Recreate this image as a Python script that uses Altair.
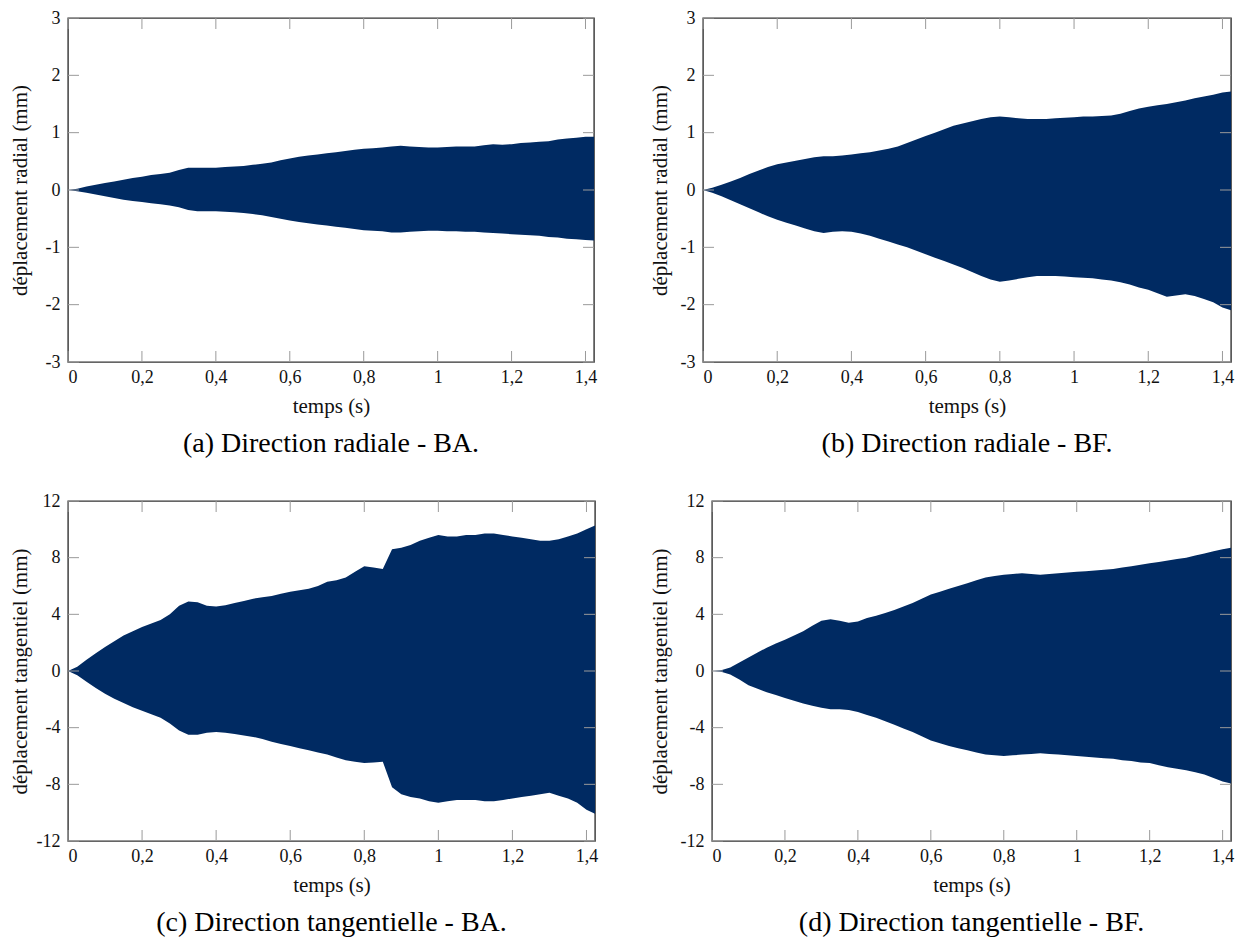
import altair as alt
import pandas as pd

# ---------------- data ----------------
TIME = [0.0, 0.025, 0.05, 0.075, 0.1, 0.125, 0.15, 0.175, 0.2, 0.225,
        0.25, 0.275, 0.3, 0.325, 0.35, 0.375, 0.4, 0.425, 0.45, 0.475,
        0.5, 0.525, 0.55, 0.575, 0.6, 0.625, 0.65, 0.675, 0.7, 0.725,
        0.75, 0.775, 0.8, 0.825, 0.85, 0.875, 0.9, 0.925, 0.95, 0.975,
        1.0, 1.025, 1.05, 1.075, 1.1, 1.125, 1.15, 1.175, 1.2, 1.225,
        1.25, 1.275, 1.3, 1.325, 1.35, 1.375, 1.4, 1.425]

# (a) radial - BA : upper / lower envelope (mm)
RAD_BA_UP = [0.0, 0.02, 0.06, 0.09, 0.12, 0.15, 0.18, 0.21, 0.23, 0.26,
             0.28, 0.30, 0.35, 0.39, 0.39, 0.39, 0.39, 0.40, 0.41, 0.42,
             0.44, 0.46, 0.48, 0.52, 0.55, 0.58, 0.60, 0.62, 0.64, 0.66,
             0.68, 0.70, 0.72, 0.73, 0.74, 0.76, 0.77, 0.76, 0.75, 0.74,
             0.74, 0.75, 0.76, 0.76, 0.76, 0.78, 0.80, 0.79, 0.80, 0.82,
             0.83, 0.84, 0.85, 0.88, 0.90, 0.91, 0.93, 0.93]
RAD_BA_LO = [0.0, -0.02, -0.05, -0.08, -0.11, -0.14, -0.17, -0.19, -0.21, -0.23,
             -0.25, -0.27, -0.30, -0.35, -0.37, -0.37, -0.37, -0.38, -0.39, -0.40,
             -0.42, -0.44, -0.47, -0.50, -0.53, -0.56, -0.58, -0.60, -0.62, -0.64,
             -0.66, -0.68, -0.70, -0.71, -0.72, -0.74, -0.74, -0.73, -0.72, -0.71,
             -0.71, -0.72, -0.72, -0.73, -0.73, -0.74, -0.75, -0.76, -0.77, -0.78,
             -0.79, -0.80, -0.82, -0.83, -0.85, -0.86, -0.87, -0.88]

# (b) radial - BF
RAD_BF_UP = [0.0, 0.04, 0.09, 0.15, 0.21, 0.28, 0.34, 0.40, 0.45, 0.48,
             0.51, 0.54, 0.57, 0.59, 0.59, 0.60, 0.62, 0.64, 0.66, 0.69,
             0.72, 0.76, 0.82, 0.88, 0.94, 1.00, 1.06, 1.12, 1.16, 1.20,
             1.24, 1.27, 1.28, 1.27, 1.25, 1.24, 1.24, 1.24, 1.25, 1.26,
             1.27, 1.28, 1.28, 1.29, 1.30, 1.33, 1.38, 1.42, 1.45, 1.48,
             1.50, 1.53, 1.56, 1.60, 1.63, 1.66, 1.70, 1.72]
RAD_BF_LO = [0.0, -0.05, -0.11, -0.18, -0.25, -0.32, -0.39, -0.46, -0.52, -0.57,
             -0.62, -0.67, -0.72, -0.75, -0.73, -0.72, -0.73, -0.76, -0.80, -0.85,
             -0.90, -0.95, -1.00, -1.06, -1.12, -1.18, -1.24, -1.30, -1.36, -1.43,
             -1.50, -1.56, -1.60, -1.58, -1.55, -1.52, -1.50, -1.50, -1.50, -1.51,
             -1.52, -1.53, -1.54, -1.56, -1.58, -1.61, -1.65, -1.70, -1.74, -1.80,
             -1.86, -1.84, -1.82, -1.85, -1.90, -1.96, -2.05, -2.10]

# (c) tangential - BA
TAN_BA_UP = [0.0, 0.3, 0.8, 1.25, 1.7, 2.1, 2.5, 2.8, 3.1, 3.35,
             3.6, 4.0, 4.6, 4.9, 4.85, 4.6, 4.55, 4.65, 4.8, 4.95,
             5.1, 5.2, 5.3, 5.45, 5.6, 5.7, 5.8, 6.0, 6.3, 6.4,
             6.6, 7.0, 7.4, 7.3, 7.2, 8.6, 8.7, 8.9, 9.2, 9.4,
             9.6, 9.5, 9.5, 9.6, 9.6, 9.7, 9.7, 9.6, 9.5, 9.4,
             9.3, 9.2, 9.2, 9.3, 9.5, 9.7, 10.0, 10.3]
TAN_BA_LO = [0.0, -0.3, -0.75, -1.2, -1.6, -1.95, -2.25, -2.55, -2.8, -3.05,
             -3.3, -3.7, -4.2, -4.5, -4.5, -4.35, -4.3, -4.35, -4.45, -4.55,
             -4.65, -4.8, -5.0, -5.15, -5.3, -5.45, -5.6, -5.75, -5.9, -6.1,
             -6.3, -6.4, -6.5, -6.45, -6.4, -8.2, -8.7, -8.9, -9.0, -9.2,
             -9.3, -9.2, -9.1, -9.1, -9.1, -9.2, -9.2, -9.1, -9.0, -8.9,
             -8.8, -8.7, -8.6, -8.8, -9.0, -9.3, -9.8, -10.1]

# (d) tangential - BF
TAN_BF_UP = [0.0, 0.05, 0.25, 0.6, 0.95, 1.3, 1.65, 1.95, 2.2, 2.5,
             2.8, 3.2, 3.55, 3.65, 3.55, 3.4, 3.5, 3.75, 3.9, 4.1,
             4.3, 4.55, 4.8, 5.1, 5.4, 5.6, 5.8, 6.0, 6.2, 6.4,
             6.6, 6.7, 6.8, 6.85, 6.9, 6.85, 6.8, 6.85, 6.9, 6.95,
             7.0, 7.05, 7.1, 7.15, 7.2, 7.3, 7.4, 7.5, 7.6, 7.7,
             7.8, 7.9, 8.0, 8.15, 8.3, 8.45, 8.6, 8.7]
TAN_BF_LO = [0.0, -0.05, -0.25, -0.6, -1.0, -1.25, -1.5, -1.7, -1.9, -2.1,
             -2.3, -2.45, -2.6, -2.7, -2.7, -2.75, -2.9, -3.1, -3.3, -3.55,
             -3.8, -4.05, -4.3, -4.6, -4.9, -5.1, -5.3, -5.45, -5.6, -5.75,
             -5.9, -5.95, -6.0, -5.95, -5.9, -5.85, -5.8, -5.85, -5.9, -5.95,
             -6.0, -6.05, -6.1, -6.15, -6.2, -6.3, -6.35, -6.45, -6.5, -6.65,
             -6.8, -6.9, -7.0, -7.15, -7.3, -7.55, -7.8, -7.95]

X_TICKS = [0, 0.2, 0.4, 0.6, 0.8, 1.0, 1.2, 1.4]
Y_TICKS_RAD = [-3, -2, -1, 0, 1, 2, 3]
Y_TICKS_TAN = [-12, -8, -4, 0, 4, 8, 12]

X_TITLE = "temps (s)"
Y_TITLE_RAD = "déplacement radial (mm)"
Y_TITLE_TAN = "déplacement tangentiel (mm)"
CAPTIONS = ["(a) Direction radiale - BA.", "(b) Direction radiale - BF.",
            "(c) Direction tangentielle - BA.", "(d) Direction tangentielle - BF."]

# ---------------- style ----------------
FONT = "Liberation Serif"
NAVY = "#002a62"
TICK_COLOR = "#9a9a9a"
FRAME = "#333333"
TL = 11  # tick length (px)
XMAX = 1.423


def panel(up, lo, ydom, yticks, ytitle, caption, w, h, tpad):
    xs = alt.Scale(domain=[0, XMAX], nice=False, zero=False)
    ys = alt.Scale(domain=ydom, nice=False, zero=False)
    common = dict(grid=False, ticks=False, tickSize=0, domain=False,
                  labelFont=FONT, labelFontSize=18, labelColor="#111",
                  titleFont=FONT, titleFontSize=21, titleFontWeight="normal",
                  titleColor="#111")
    xaxis = alt.Axis(values=X_TICKS, title=X_TITLE,
                     labelExpr="replace(format(datum.value, '.1~f'), '.', ',')",
                     labelPadding=6, titlePadding=9, **common)
    yaxis = alt.Axis(values=yticks, title=ytitle,
                     labelExpr="toString(datum.value)",
                     labelPadding=8, titlePadding=tpad, **common)

    df = pd.DataFrame({"t": TIME, "up": up, "lo": lo})
    area = alt.Chart(df).mark_area(color=NAVY, clip=True, interpolate="linear").encode(
        x=alt.X("t:Q", scale=xs, axis=xaxis),
        y=alt.Y("up:Q", scale=ys, axis=yaxis),
        y2="lo:Q",
    )

    xt = pd.DataFrame({"v": X_TICKS})
    yt = pd.DataFrame({"v": yticks})
    rule = dict(color=TICK_COLOR, strokeWidth=1)
    xenc = alt.X("v:Q", scale=xs, axis=xaxis)
    yenc = alt.Y("v:Q", scale=ys, axis=yaxis)
    bottom = alt.Chart(xt).mark_rule(**rule).encode(x=xenc, y=alt.value(h), y2=alt.value(h - TL))
    top = alt.Chart(xt).mark_rule(**rule).encode(x=xenc, y=alt.value(0), y2=alt.value(TL))
    left = alt.Chart(yt).mark_rule(**rule).encode(y=yenc, x=alt.value(0), x2=alt.value(TL))
    right = alt.Chart(yt).mark_rule(**rule).encode(y=yenc, x=alt.value(w), x2=alt.value(w - TL))

    return alt.layer(area, bottom, top, left, right).properties(
        width=w, height=h,
        title=alt.TitleParams(caption, orient="bottom", anchor="middle", offset=14,
                              font=FONT, fontSize=28, fontWeight="normal", color="#000"),
    )


pa = panel(RAD_BA_UP, RAD_BA_LO, [-3, 3], Y_TICKS_RAD, Y_TITLE_RAD, CAPTIONS[0], 526, 344, 15)
pb = panel(RAD_BF_UP, RAD_BF_LO, [-3, 3], Y_TICKS_RAD, Y_TITLE_RAD, CAPTIONS[1], 528, 344, 10)
pc = panel(TAN_BA_UP, TAN_BA_LO, [-12, 12], Y_TICKS_TAN, Y_TITLE_TAN, CAPTIONS[2], 527, 340, 6)
pd_ = panel(TAN_BF_UP, TAN_BF_LO, [-12, 12], Y_TICKS_TAN, Y_TITLE_TAN, CAPTIONS[3], 519, 340, 10)

top_row = alt.hconcat(pa, pb, spacing=50)
bottom_row = alt.hconcat(pc, pd_, spacing=49)

chart = alt.vconcat(top_row, bottom_row, spacing=32).properties(
    background="white",
    padding={"left": 0, "top": 0, "right": 0, "bottom": 0},
    autosize=alt.AutoSizeParams(type="pad"),
).configure_view(
    stroke=FRAME, strokeWidth=1.4
)

chart.save("out.html", embed_options={"renderer": "svg", "actions": False})
